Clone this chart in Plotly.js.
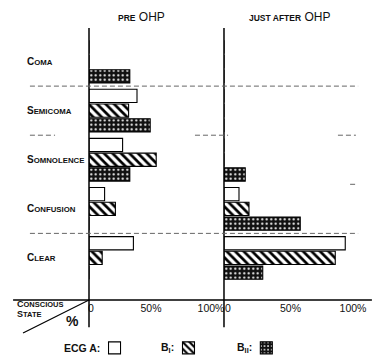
<!DOCTYPE html>
<html>
<head>
<meta charset="utf-8">
<script src="https://cdn.plot.ly/plotly-3.0.1.min.js"></script>
<style>html,body{margin:0;padding:0;background:#fff;}#chart{width:375px;height:360px;}</style>
</head>
<body>
<div id="chart"></div>
<script>
// ---- data (percent of patients) ----
var categories = ['Coma', 'Semicoma', 'Somnolence', 'Confusion', 'Clear'];
var seriesNames = ['ECG A', 'B I', 'B II'];
var legendLabels = ['ECG A:', 'B<sub>I</sub>:', 'B<sub>II</sub>:'];
var panelTitles = ['PRE OHP', 'JUST AFTER OHP'];
var tickVals = [0, 50, 100];
var tickText = ['0', '50%', '100%'];

// PRE OHP
var preA   = [0, 40, 28, 13, 37];
var preBI  = [0, 33, 56, 22, 11];
var preBII = [34, 51, 34, 0, 0];
// JUST AFTER OHP
var postA   = [0, 0, 0, 12, 97];
var postBI  = [0, 0, 0, 20, 89];
var postBII = [0, 0, 17, 61, 31];

// ---- styling ----
var FB = '"Liberation Sans", Arial, sans-serif';
var styles = [
  {color: '#ffffff', line: {color: '#000', width: 1.1}},
  {color: '#ffffff', line: {color: '#000', width: 1.1},
   pattern: {shape: '\\', fgcolor: '#000', bgcolor: '#fff', size: 6, solidity: 0.45}},
  {color: '#111111', line: {color: '#000', width: 1.1},
   pattern: {shape: '.', fgcolor: '#fff', bgcolor: '#111', size: 4.5, solidity: 0.18}}
];
var legendIds = ['legend', 'legend2', 'legend3'];

var pre = [preA, preBI, preBII];
var post = [postA, postBI, postBII];
var traces = [];
[pre, post].forEach(function (panel, p) {
  panel.forEach(function (vals, i) {
    traces.push({
      type: 'bar', orientation: 'h',
      x: vals, y: categories,
      xaxis: p === 0 ? 'x' : 'x2', yaxis: 'y',
      name: '\u00a0',
      marker: styles[i],
      showlegend: p === 0,
      legend: legendIds[i],
      hovertemplate: '%{y}: %{x}%<extra>' + seriesNames[i] + ' – ' + panelTitles[p] + '</extra>'
    });
  });
});

function smallCaps(word, big, small) {
  return '<span style="font-size:' + big + 'px">' + word.charAt(0).toUpperCase() + '</span>' +
         '<span style="font-size:' + small + 'px">' + word.slice(1).toUpperCase() + '</span>';
}

var annotations = categories.map(function (c) {
  return {xref: 'paper', yref: 'y', x: -0.232, y: c, xanchor: 'left', yanchor: 'middle',
          text: smallCaps(c, 10, 7.8), showarrow: false,
          font: {family: FB, size: 10, color: '#111', weight: 'bold'}};
});
annotations.push(
  {xref: 'paper', yref: 'paper', x: 0.192, y: 1.04, xanchor: 'center', yanchor: 'middle', showarrow: false,
   text: '<span style="font-size:8.5px;font-weight:bold">PRE</span> <span style="font-size:12px">OHP</span>',
   font: {family: FB, size: 12, color: '#111'}},
  {xref: 'paper', yref: 'paper', x: 0.725, y: 1.04, xanchor: 'center', yanchor: 'middle', showarrow: false,
   text: '<span style="font-size:8.5px;font-weight:bold">JUST AFTER</span> <span style="font-size:12px">OHP</span>',
   font: {family: FB, size: 12, color: '#111'}},
  {xref: 'paper', yref: 'paper', x: -0.268, y: 0.01, xanchor: 'left', yanchor: 'top', showarrow: false, align: 'left',
   text: smallCaps('Conscious', 9, 7.5) + '<br>' + smallCaps('State', 9, 7.5),
   font: {family: FB, size: 8, color: '#111', weight: 'bold'}},
  {xref: 'paper', yref: 'paper', x: -0.058, y: -0.078, xanchor: 'center', yanchor: 'middle', showarrow: false,
   text: '%', font: {family: FB, size: 14, color: '#111', weight: 'bold'}}
);
// legend labels (drawn left of each swatch)
var legendLabelX = [0.047, 0.315, 0.597];
legendLabels.forEach(function (t, i) {
  annotations.push({xref: 'paper', yref: 'paper', x: legendLabelX[i], y: -0.176, xanchor: 'right', yanchor: 'middle',
    showarrow: false, text: t, font: {family: FB, size: 10.5, color: '#111', weight: 'bold'}});
});

var sepStyle = {color: '#666', width: 1, dash: '5px,3px'};
var shapes = [
  {type: 'line', xref: 'x domain', x0: 0, x1: 0, yref: 'paper', y0: -0.1, y1: 1, line: {color: '#000', width: 1.5}},
  {type: 'line', xref: 'x2 domain', x0: 0, x1: 0, yref: 'paper', y0: -0.1, y1: 1, line: {color: '#000', width: 1.5}},
  {type: 'line', xref: 'paper', x0: -0.275, x1: 1.025, yref: 'paper', y0: 0, y1: 0, line: {color: '#000', width: 1.5}},
  {type: 'line', xref: 'paper', x0: -0.239, x1: 0, yref: 'paper', y0: -0.121, y1: 0, line: {color: '#000', width: 1.2}}
];
[[0, -0.214, 0.975], [3, -0.214, 0.975], [1, -0.214, -0.123], [1, 0.384, 0.504], [1, 0.902, 0.967], [2, 0.946, 0.967]]
  .forEach(function (s) {
    shapes.push({type: 'line', xref: 'paper', yref: 'y', x0: s[1], x1: s[2], y0: s[0] + 0.5, y1: s[0] + 0.5, line: sepStyle});
  });

var legendX = [0.02, 0.288, 0.57];
function legendBox(x) {
  return {orientation: 'h', x: x, xanchor: 'left', y: -0.176, yanchor: 'middle',
          bgcolor: 'rgba(0,0,0,0)', borderwidth: 0, itemwidth: 30,
          font: {family: FB, size: 6, color: '#111'}};
}
var layout = {
  width: 375, height: 360,
  margin: {l: 89, r: 10, t: 28, b: 60, autoexpand: false},
  paper_bgcolor: '#fff', plot_bgcolor: '#fff',
  barmode: 'group', bargap: 0.1, bargroupgap: 0.1,
  font: {family: FB, color: '#111'},
  xaxis: {domain: [0, 0.4891], range: [0, 112.5], tickvals: tickVals, ticktext: tickText,
          showgrid: false, zeroline: false, showline: false, ticks: '', ticklabelshift: 2,
          tickfont: {family: FB, size: 10.5, color: '#111'}, fixedrange: true},
  xaxis2: {domain: [0.4891, 1], range: [0, 112.8], anchor: 'y', tickvals: tickVals, ticktext: tickText,
           showgrid: false, zeroline: false, showline: false, ticks: '', ticklabelshift: 4,
           tickfont: {family: FB, size: 10.5, color: '#111'}, fixedrange: true},
  yaxis: {type: 'category', categoryorder: 'array', categoryarray: categories,
          range: [4.857, -0.684], showticklabels: false, showgrid: false, zeroline: false,
          showline: false, ticks: '', fixedrange: true},
  legend: legendBox(legendX[0]),
  legend2: legendBox(legendX[1]),
  legend3: legendBox(legendX[2]),
  annotations: annotations,
  shapes: shapes
};
Plotly.newPlot('chart', traces, layout, {displayModeBar: false, responsive: false});
</script>
</body>
</html>
